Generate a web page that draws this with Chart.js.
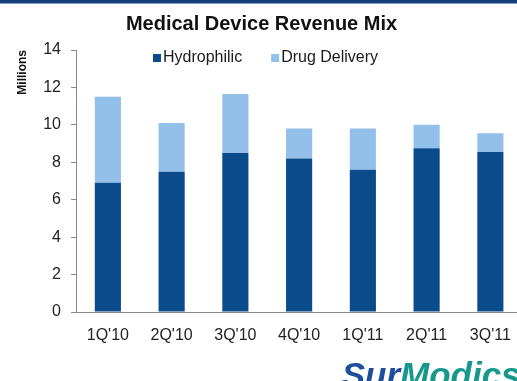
<!DOCTYPE html>
<html><head><meta charset="utf-8">
<script src="https://cdn.jsdelivr.net/npm/chart.js@4/dist/chart.umd.min.js"></script>
<style>
html,body{margin:0;padding:0;background:#fff;overflow:hidden;width:517px;height:381px;}
#wrap{position:relative;width:525px;height:381px;}
#band{position:absolute;left:0;top:0;width:517px;height:3px;background:#163d78;border-bottom:1px solid #7d9cc8;}
</style></head>
<body>
<div id="wrap"><div id="band"></div><canvas id="c" width="525" height="381"></canvas></div>
<script>
const categories = ["1Q'10","2Q'10","3Q'10","4Q'10","1Q'11","2Q'11","3Q'11"];
const hydrophilic = [6.9, 7.5, 8.5, 8.2, 7.6, 8.75, 8.55];
const drugDelivery = [4.6, 2.6, 3.15, 1.6, 2.2, 1.25, 1.0];
const seriesNames = ["Hydrophilic", "Drug Delivery"];
const yTicks = [0, 2, 4, 6, 8, 10, 12, 14];

const FONT = "'Liberation Sans', Arial, sans-serif";

const legendPlugin = {
  id: 'customLegend',
  afterDraw(chart) {
    const ctx = chart.ctx;
    ctx.save();
    ctx.font = "16px " + FONT;
    ctx.textBaseline = 'middle';
    let x = 153;
    const y = 58;
    chart.data.datasets.forEach((ds, i) => {
      ctx.fillStyle = ds.backgroundColor;
      ctx.fillRect(x, y - 4, 8, 8);
      x += 10;
      ctx.fillStyle = '#1a1a1a';
      ctx.fillText(ds.label, x, y);
      x += ctx.measureText(ds.label).width + 29;
    });
    // company logo text
    ctx.font = "italic bold 35px " + FONT;
    ctx.textBaseline = 'alphabetic';
    const w = ctx.measureText('Sur').width;
    const x0 = 400 - w;
    ctx.fillStyle = '#1d4f9a';
    ctx.fillText('Sur', x0, 387);
    ctx.fillStyle = '#16998a';
    ctx.fillText('Modics', x0 + w, 387);
    ctx.restore();
  }
};

new Chart(document.getElementById('c'), {
  type: 'bar',
  data: {
    labels: categories,
    datasets: [
      { label: seriesNames[0], data: hydrophilic, backgroundColor: '#0b4a8b', barPercentage: 0.41, categoryPercentage: 1 },
      { label: seriesNames[1], data: drugDelivery, backgroundColor: '#92c0ea', barPercentage: 0.41, categoryPercentage: 1 }
    ]
  },
  plugins: [legendPlugin],
  options: {
    responsive: false,
    animation: false,
    layout: { padding: { left: 0, right: 2, top: 0, bottom: 0 } },
    plugins: {
      legend: { display: false },
      tooltip: { enabled: false },
      title: {
        display: true,
        text: 'Medical Device Revenue Mix',
        color: '#111',
        font: { family: FONT, size: 20, weight: 'bold' },
        padding: { top: 12, bottom: 14 }
      }
    },
    scales: {
      x: {
        stacked: true,
        grid: { display: false, drawTicks: false },
        border: { display: true, color: '#8a8a8a', width: 1 },
        ticks: { color: '#222', font: { family: FONT, size: 16 }, padding: 14, maxRotation: 0 },
        afterFit(scale) { scale.height = 69; }
      },
      y: {
        stacked: true,
        min: 0, max: 14,
        afterBuildTicks(scale) { scale.ticks = yTicks.map(v => ({ value: v })); },
        grid: { display: true, drawOnChartArea: false, drawTicks: true, tickLength: 5, color: '#8a8a8a' },
        border: { display: true, color: '#8a8a8a', width: 1 },
        ticks: { color: '#222', font: { family: FONT, size: 16 }, padding: 10 },
        title: {
          display: true, text: 'Millions', align: 'end',
          color: '#111', font: { family: FONT, size: 12, weight: 'bold' },
          padding: { top: 15, bottom: 0 }
        },
        afterFit(scale) { scale.width = 76; }
      }
    }
  }
});
</script>
</body></html>
